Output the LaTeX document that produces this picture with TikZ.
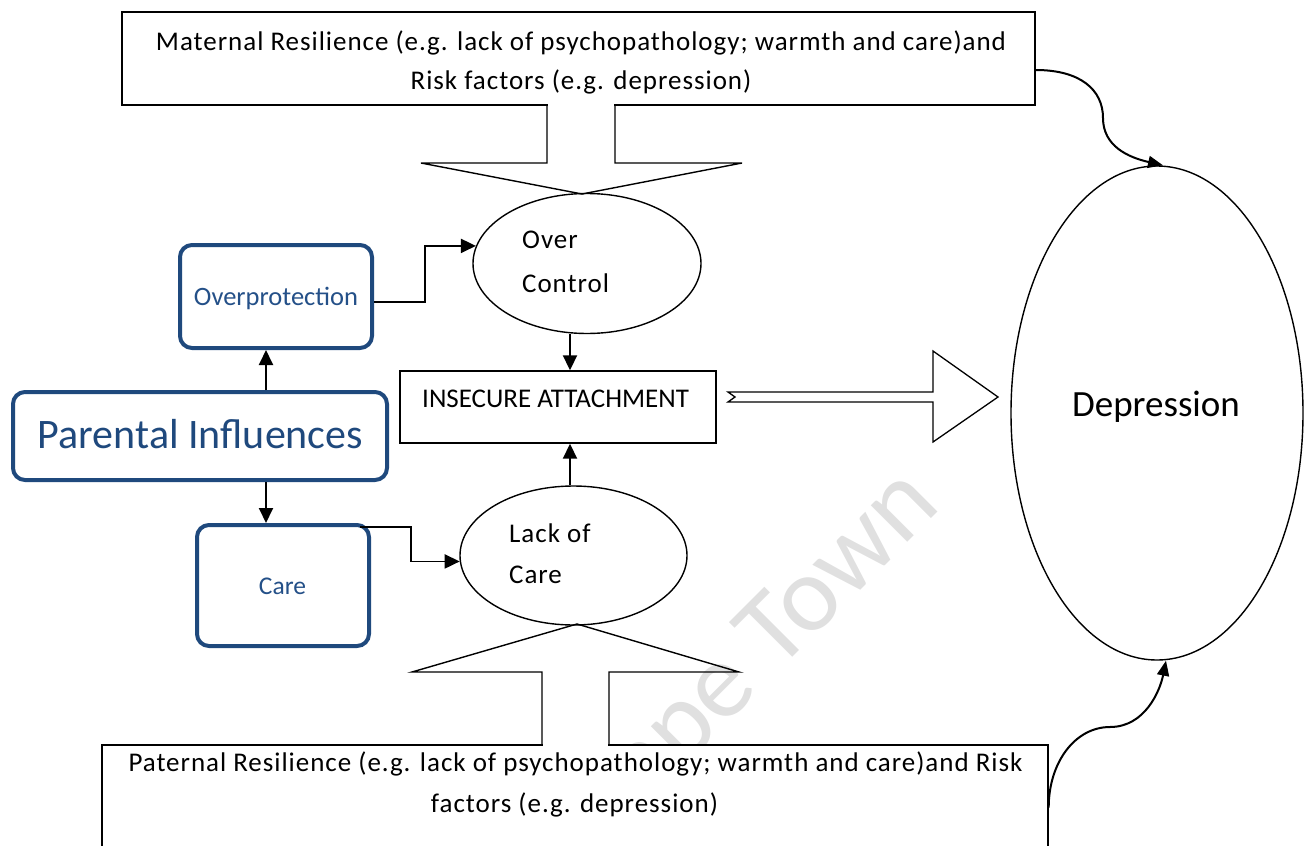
\documentclass[tikz,border=0pt]{standalone}
\usepackage{fontspec}
\setmainfont{Carlito}
\newfontfamily\wfont[LetterSpace=3.6]{Carlito}
\usetikzlibrary{arrows.meta,calc,shapes.geometric}
\definecolor{pblue}{RGB}{31,73,125}
\definecolor{ptext}{RGB}{36,80,136}
\begin{document}
\begin{tikzpicture}[x=1pt,y=-1pt,
  plain/.style={draw=black,line width=1.4pt,fill=white,inner sep=0pt},
  rbox/.style={draw=pblue,line width=4pt,rounded corners=12pt,fill=white,inner sep=0pt},
  ell/.style={draw=black,line width=1.4pt,ellipse,inner sep=0pt,fill=white},
  lbl/.style={inner sep=0pt,font=\wfont\fontsize{27}{30}\selectfont},
  blbl/.style={inner sep=0pt,text=ptext},
  arr/.style={draw=black,line width=1.9pt,-{Triangle[length=15pt,width=14pt]}},
  carr/.style={draw=black,line width=2pt,-{Triangle[length=15pt,width=12pt]}},
  blk/.style={draw=black,line width=1.4pt,line join=miter},
  wm/.style={inner sep=0pt,text=black!12,font=\fontsize{108}{108}\selectfont}
]
\useasboundingbox (0,0) rectangle (1310,846);

% watermark
\node[wm,rotate=45] (wmark) at (776,638) {ape Town};

% top and bottom boxes
\node[plain,minimum width=913,minimum height=93] (mat) at (578.5,58.5) {};
\node[lbl,anchor=base] (mat1) at (581,50) {Maternal Resilience (e.g. lack of psychopathology; warmth and care)and};
\node[lbl,anchor=base] (mat2) at (581,89) {Risk factors (e.g. depression)};

\node[plain,minimum width=946,minimum height=115] (pat) at (575,802.5) {};
\node[lbl,anchor=base] (pat1) at (575.5,771) {Paternal Resilience (e.g. lack of psychopathology; warmth and care)and Risk};
\node[lbl,anchor=base] (pat2) at (574.5,812) {factors (e.g. depression)};

% ellipses
\node[ell,minimum width=228,minimum height=140] (oc) at (587,263.5) {};
\node[lbl,anchor=base west] (oc1) at (522,248) {Over};
\node[lbl,anchor=base west] (oc2) at (522,292) {Control};

\node[ell,minimum width=227,minimum height=139] (loc) at (573.5,555.5) {};
\node[lbl,anchor=base west] (loc1) at (509,542) {Lack of};
\node[lbl,anchor=base west] (loc2) at (509,583) {Care};

\node[ell,minimum width=292,minimum height=494] (dep) at (1157,413) {};
\node[inner sep=0pt,anchor=base,font=\fontsize{37}{40}\selectfont] (deptxt) at (1156,416) {Depression};

% insecure attachment
\node[plain,minimum width=316,minimum height=72] (ins) at (558,407) {};
\node[inner sep=0pt,anchor=base west,font=\fontsize{27}{30}\selectfont] (instxt) at (422,407) {INSECURE ATTACHMENT};

% blue rounded boxes
\node[rbox,minimum width=192,minimum height=103] (op) at (276,296.5) {};
\node[blbl,anchor=base,font=\fontsize{26.5}{30}\selectfont] (optxt) at (276,305) {Overprotection};
\node[rbox,minimum width=374,minimum height=88] (pi) at (200,436) {};
\node[blbl,anchor=base,font=\fontsize{42}{44}\selectfont,text=pblue] (pitxt) at (200.5,448) {Parental Influences};
\node[rbox,minimum width=172,minimum height=121] (care) at (283,585.5) {};
\node[blbl,anchor=base,font=\fontsize{25.5}{30}\selectfont] (caretxt) at (282.5,594) {Care};

% block arrow down from maternal box
\fill[white] (548,100) rectangle (614,163);
\draw[blk] (547,105) -- (547,163) -- (421,163) -- (582,194) -- (742,163) -- (615,163) -- (615,105);
% block arrow up into paternal box
\fill[white] (543,672) rectangle (608,750);
\draw[blk] (542,745) -- (542,672) -- (412,672) -- (577,624) -- (739,672) -- (609,672) -- (609,745);

% hollow arrow to depression
\draw[blk,line width=1.3pt] (728,392) -- (933,392) -- (933,351) -- (998,397) -- (933,442) -- (933,402) -- (728,402) -- (735,397) -- cycle;

% connectors
\draw[arr] ([xshift=66]pi.north) -- ([xshift=-10]op.south);
\draw[arr] ([xshift=66]pi.south) -- ([xshift=-17]care.north);
\draw[arr] ([yshift=-5.5]op.east) -- ++(51,0) |- (oc.171.5);
\draw[arr] ([xshift=-11,yshift=-4]care.north east) -- ++(51,0) |- (loc.183.8);
\draw[arr] ([xshift=-17]oc.south) -- ([xshift=12]ins.north);
\draw[arr] ([xshift=-3.5]loc.north) -- ([xshift=12]ins.south);

% curved arrows
\coordinate (m1) at (1103,118);
\coordinate (p1) at (1110,727);
\draw[carr] ([yshift=-11.5]mat.east) .. controls +(45,0) and +(0,-28) .. (m1) .. controls +(0,28) and +(-35,-8) .. ([xshift=6]dep.north);
\draw[carr] ([yshift=-5]pat.east) .. controls +(0,-45) and +(-35,0) .. (p1) .. controls +(35,0) and +(-6,30) .. ([xshift=9]dep.south);
\end{tikzpicture}
\end{document}
